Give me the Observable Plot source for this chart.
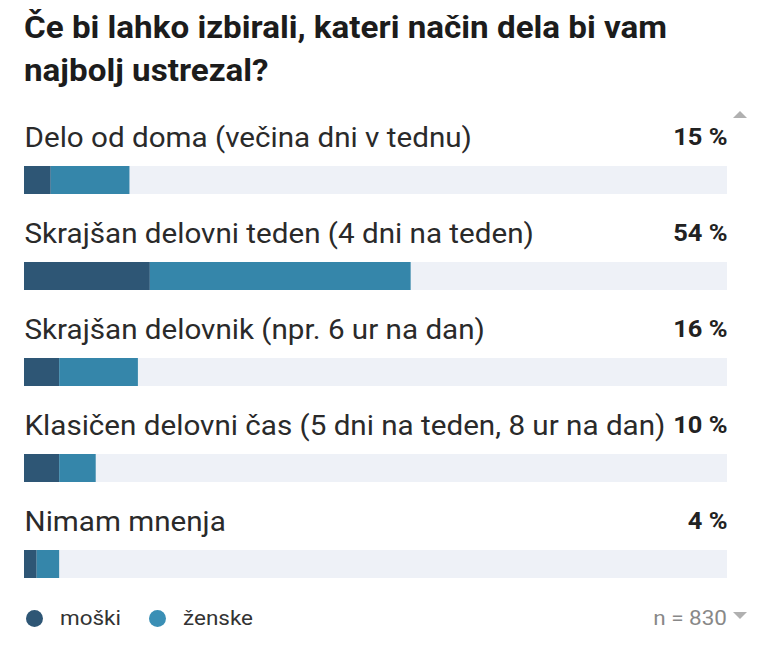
<!DOCTYPE html>
<html>
<head>
<meta charset="utf-8">
<script src="https://cdn.jsdelivr.net/npm/d3@7"></script>
<script src="https://cdn.jsdelivr.net/npm/@observablehq/plot@0.6"></script>
<style>
  body { margin: 0; background: #fff; font-family: Roboto, "Noto Sans", sans-serif; }
  #wrap { position: relative; width: 768px; height: 653px; overflow: hidden; }
  h1 { position: absolute; left: 24px; top: 6px; margin: 0; font-size: 30.5px; line-height: 43px; font-weight: 700; color: #1c1c1c; width: 620px; transform: scaleX(1.088); transform-origin: left top; white-space: nowrap; }
  #chart { position: absolute; left: 0; top: 100px; }
  #legend { position: absolute; left: 26px; top: 605px; height: 26px; font-size: 21px; color: #333; display: flex; align-items: center; }
  .sw { display: inline-block; width: 17px; height: 17px; border-radius: 50%; margin-right: 17px; }
  .item { display: flex; align-items: center; margin-right: 32px; }
  .item span.t { display: inline-block; transform: scaleX(1.07); transform-origin: left center; }
  #n { position: absolute; right: 41px; top: 605px; height: 26px; line-height: 26px; font-size: 21px; color: #888; transform: scaleX(1.07); transform-origin: right center; }
  .up, .down { position: absolute; left: 733px; width: 0; height: 0; border-left: 7px solid transparent; border-right: 7px solid transparent; }
  .up { top: 111px; border-bottom: 7px solid #b0b0b0; }
  .down { top: 612px; border-top: 7px solid #b0b0b0; }
</style>
</head>
<body>
<div id="wrap">
  <h1>Če bi lahko izbirali, kateri način dela bi vam<br>najbolj ustrezal?</h1>
  <div id="chart"></div>
  <div id="legend"></div>
  <div id="n">n = 830</div>
  <div class="up"></div>
  <div class="down"></div>
</div>
<script>
const categories = [
  "Delo od doma (večina dni v tednu)",
  "Skrajšan delovni teden (4 dni na teden)",
  "Skrajšan delovnik (npr. 6 ur na dan)",
  "Klasičen delovni čas (5 dni na teden, 8 ur na dan)",
  "Nimam mnenja"
];
const totals = [15, 54, 16, 10, 4];
const moski = [3.8, 17.9, 5.0, 5.0, 1.8];
const zenske = [11.2, 37.1, 11.2, 5.2, 3.2];
const seriesNames = ["moški", "ženske"];
const seriesColors = ["#2e5675", "#3586aa"];
const legendColors = ["#2e5675", "#3a8fb5"];

const long = [];
categories.forEach((c, i) => {
  long.push({cat: c, series: seriesNames[0], value: moski[i]});
  long.push({cat: c, series: seriesNames[1], value: zenske[i]});
});
const rows = categories.map((c, i) => ({cat: c, total: totals[i]}));

const chart = Plot.plot({
  width: 768,
  height: 490,
  marginTop: 10,
  marginBottom: 0,
  marginLeft: 24,
  marginRight: 41,
  style: {fontFamily: "Roboto, 'Noto Sans', sans-serif", overflow: "visible"},
  x: {domain: [0, 100], axis: null},
  y: {domain: categories, axis: null, padding: 0},
  color: {domain: seriesNames, range: seriesColors},
  marks: [
    Plot.barX(rows, {x1: 0, x2: 100, y: "cat", fill: "#eef1f7", insetTop: 56, insetBottom: 12}),
    Plot.barX(long, {x: "value", y: "cat", fill: "series", insetTop: 56, insetBottom: 12}),
    Plot.text(rows, {x: 0, y: "cat", text: "cat", textAnchor: "start", dy: -20, fontSize: 28, fill: "#2a2a2a"}),
    Plot.text(rows, {x: 100, y: "cat", text: d => d.total + " %", textAnchor: "end", dy: -21, fontSize: 24, fontWeight: 700, fill: "#222"})
  ]
});
document.getElementById("chart").appendChild(chart);

// slight horizontal stretch of the text groups, anchored at their own alignment edge
function stretch(g, ox, s) {
  if (!g) return;
  const prev = g.getAttribute("transform") || "";
  g.setAttribute("transform", `${prev} translate(${ox},0) scale(${s},1) translate(${-ox},0)`.trim());
}
const textGroups = chart.querySelectorAll('g[aria-label="text"]');
stretch(textGroups[0], 24, 1.058);
stretch(textGroups[1], 727, 1.06);

const legend = document.getElementById("legend");
seriesNames.forEach((s, i) => {
  const it = document.createElement("span");
  it.className = "item";
  it.innerHTML = `<span class="sw" style="background:${legendColors[i]}"></span><span class="t">${s}</span>`;
  legend.appendChild(it);
});
</script>
</body>
</html>
